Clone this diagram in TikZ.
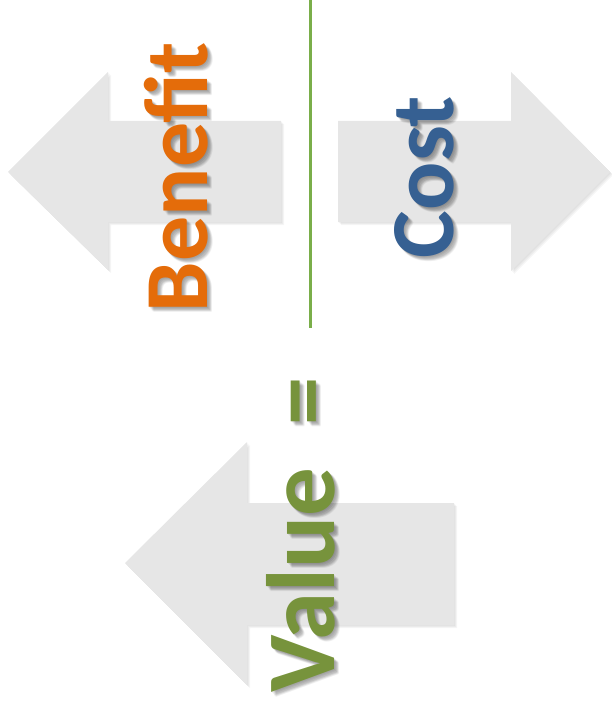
\documentclass[tikz,border=0pt]{standalone}
\usepackage{fontspec}
\setmainfont{Carlito}
\definecolor{arrowgray}{HTML}{E6E6E6}
\definecolor{benorange}{HTML}{E46C0A}
\definecolor{costblue}{HTML}{366092}
\definecolor{valgreen}{HTML}{77933C}
\definecolor{linegreen}{HTML}{7AAE4A}
\tikzset{
  bigarrow/.style={fill=arrowgray, draw=none},
  arrowshade/.style={fill=black, draw=none, opacity=0.04},
  lbl/.style={rotate=90, anchor=base west, inner sep=0pt, outer sep=0pt,
    font=\bfseries\fontsize{#1}{#1}\selectfont},
  txtshade/.style={text=black, opacity=#1},
  divider/.style={draw=linegreen, line width=2.5pt}
}
\newcommand{\ArrowA}{(8,172) -- (108,72) -- (108,121) -- (281,121) -- (281,222) -- (108,222) -- (108,270) -- cycle}
\newcommand{\ArrowB}{(338,121) -- (511,121) -- (511,72) -- (610,172) -- (511,271) -- (511,222) -- (338,222) -- cycle}
\newcommand{\ArrowC}{(125,563) -- (247,442) -- (247,503) -- (454,503) -- (454,625) -- (247,625) -- (247,685) -- cycle}
\begin{document}
\begin{tikzpicture}[x=1pt,y=-1pt]
\useasboundingbox (0,0) rectangle (611,711);
% arrow soft shadows
\foreach \o in {1,2,3} {
  \fill[arrowshade, shift={(\o,\o)}] \ArrowA;
  \fill[arrowshade, shift={(\o,\o)}] \ArrowB;
  \fill[arrowshade, shift={(\o,\o)}] \ArrowC;
}
% arrows
\fill[bigarrow] \ArrowA;
\fill[bigarrow] \ArrowB;
\fill[bigarrow] \ArrowC;
% divider line
\coordinate (top) at (310.5,0);
\coordinate (bot) at (310.5,328);
\draw[divider] (top) -- (bot);
% text shadows (soft)
\foreach \dx/\dy/\a in {1/1/0.07,2/2/0.07,3/3/0.06,4/4/0.05,5/5/0.04,3/4/0.04,4/3/0.04,5/4/0.03,4/5/0.03} {
  \node[lbl=90, txtshade=\a] at (207+\dx,312+\dy) {Benefit};
  \node[lbl=90, txtshade=\a] at (453+\dx,258+\dy) {Cost};
  \node[lbl=97, txtshade=\a] at (334+\dx,692+\dy) {Value\hspace{0.43em}=};
}
% texts
\node[lbl=90, text=benorange] (benefit) at (207,312) {Benefit};
\node[lbl=90, text=costblue] (cost) at (453,258) {Cost};
\node[lbl=97, text=valgreen] (value) at (334,692) {Value\hspace{0.43em}=};
\end{tikzpicture}
\end{document}
